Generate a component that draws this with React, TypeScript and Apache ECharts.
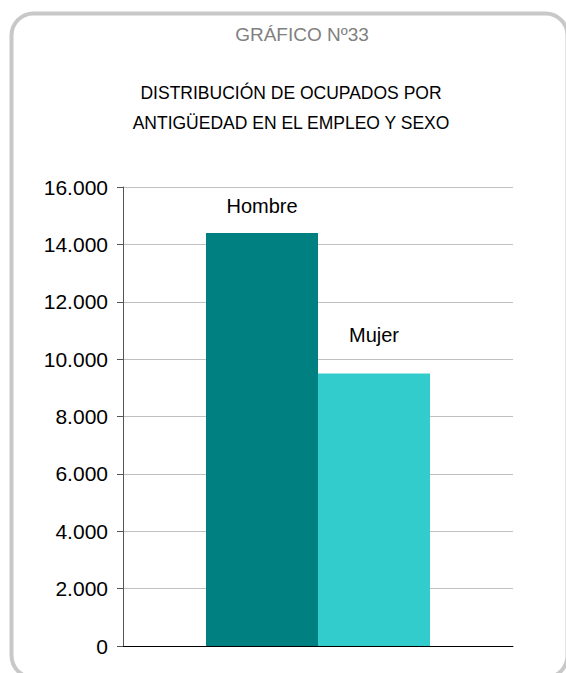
import React, { useEffect, useRef } from "react";
import * as echarts from "echarts";

const categories: string[] = [""];
const seriesNames: string[] = ["Hombre", "Mujer"];
const hombreValues: number[] = [14400];
const mujerValues: number[] = [9500];
const yTicks: number[] = [0, 2000, 4000, 6000, 8000, 10000, 12000, 14000, 16000];
const titleText = "GRÁFICO Nº33";
const subtitleLines: string[] = [
  "DISTRIBUCIÓN DE OCUPADOS POR",
  "ANTIGÜEDAD EN EL EMPLEO Y SEXO",
];

const FONT = "'Liberation Sans', Arial, sans-serif";

function fmt(v: number): string {
  return String(v).replace(/\B(?=(\d{3})+(?!\d))/g, ".");
}

export default function App() {
  const ref = useRef<HTMLDivElement>(null);
  useEffect(() => {
    if (!ref.current) return;
    const chart = echarts.init(ref.current, undefined, { renderer: "svg" });
    chart.setOption({
      animation: false,
      backgroundColor: "#ffffff",
      title: [
        {
          text: titleText,
          left: 297,
          top: 20,
          textAlign: "center",
          textStyle: { fontFamily: FONT, fontSize: 19, fontWeight: "normal", color: "#808080" },
        },
        {
          text: subtitleLines.join("\n"),
          left: 286,
          top: 73,
          textAlign: "center",
          textStyle: {
            fontFamily: FONT,
            fontSize: 17.5,
            fontWeight: "normal",
            color: "#000000",
            lineHeight: 30,
          },
        },
      ],
      graphic: [
        {
          type: "rect",
          shape: { x: 11.5, y: 13.5, width: 556, height: 664, r: 22 },
          style: { fill: "none", stroke: "#c8c8c8", lineWidth: 4 },
          silent: true,
          z: 10,
        },
      ],
      grid: { left: 123, right: 53, top: 187, bottom: 27, containLabel: false },
      xAxis: {
        type: "category",
        data: categories,
        axisLine: { show: true, lineStyle: { color: "#000000", width: 1 } },
        axisTick: { show: false },
        axisLabel: { show: false },
        splitLine: { show: false },
      },
      yAxis: {
        type: "value",
        min: yTicks[0],
        max: yTicks[yTicks.length - 1],
        interval: yTicks[1] - yTicks[0],
        axisLine: { show: true, lineStyle: { color: "#555555", width: 1 } },
        axisTick: { show: true, length: 6, lineStyle: { color: "#555555" } },
        axisLabel: {
          formatter: (v: number) => fmt(v),
          fontFamily: FONT,
          fontSize: 21,
          color: "#000000",
          margin: 15,
        },
        splitLine: { show: true, lineStyle: { color: "#c0c0c0", width: 1 } },
      },
      series: [
        {
          name: seriesNames[0],
          type: "bar",
          data: hombreValues,
          barWidth: 112,
          barGap: "0%",
          itemStyle: { color: "#008080" },
          label: {
            show: true,
            position: "top",
            distance: 17,
            formatter: "{a}",
            fontFamily: FONT,
            fontSize: 20,
            color: "#000000",
          },
        },
        {
          name: seriesNames[1],
          type: "bar",
          data: mujerValues,
          barWidth: 112,
          barGap: "0%",
          itemStyle: { color: "#33cccc" },
          label: {
            show: true,
            position: "top",
            distance: 28,
            formatter: "{a}",
            fontFamily: FONT,
            fontSize: 20,
            color: "#000000",
          },
        },
      ],
    });
    return () => chart.dispose();
  }, []);
  return (
    <div
      ref={ref}
      style={{ position: "fixed", left: 0, top: 0, width: 566, height: 673, background: "#fff" }}
    />
  );
}
